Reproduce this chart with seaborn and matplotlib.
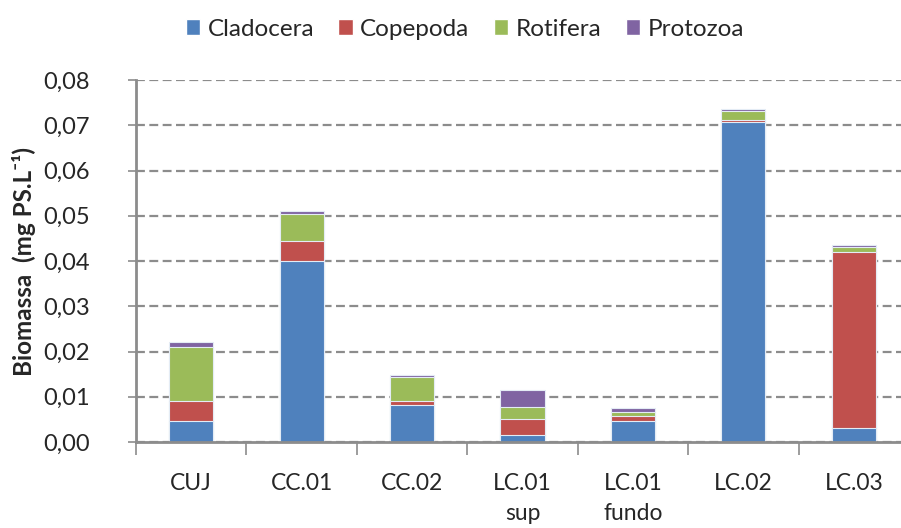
import numpy as np
import pandas as pd
import matplotlib
matplotlib.use("Agg")
import matplotlib.pyplot as plt
import seaborn as sns
from matplotlib.patches import Patch
from matplotlib.ticker import FuncFormatter

# data
sites = ['CUJ', 'CC.01', 'CC.02', 'LC.01\nsup', 'LC.01\nfundo', 'LC.02', 'LC.03']
cladocera = [0.0046, 0.0400, 0.0081, 0.0015, 0.0046, 0.0708, 0.0032]
copepoda = [0.0044, 0.0044, 0.0009, 0.0035, 0.0012, 0.0004, 0.0388]
rotifera = [0.0119, 0.0060, 0.0053, 0.0027, 0.0009, 0.0019, 0.0010]
protozoa = [0.0013, 0.0006, 0.0004, 0.0039, 0.0009, 0.0004, 0.0005]

groups = ['Cladocera', 'Copepoda', 'Rotifera', 'Protozoa']
colors = ['#4F81BD', '#C0504D', '#9BBB59', '#8064A2']

sns.set_style('white')
plt.rcParams['font.family'] = ['Lato', 'DejaVu Sans']

df = pd.DataFrame({'site': sites, 'Cladocera': cladocera, 'Copepoda': copepoda,
                   'Rotifera': rotifera, 'Protozoa': protozoa})
cum = df[groups].cumsum(axis=1)

fig = plt.figure(figsize=(9.01, 5.28), dpi=100)
ax = fig.add_axes([136 / 901, 86 / 528, 773 / 901, 362 / 528])

# stacked bars: draw cumulative totals from the top layer down
for g, c in reversed(list(zip(groups, colors))):
    sns.barplot(x=df['site'], y=cum[g], color=c, width=0.4, ax=ax,
                edgecolor='#e4ecf5', linewidth=0.8, saturation=1)

ax.set_ylim(0, 0.08)
ax.set_xlim(-0.5, 6.5)
ax.set_yticks(np.arange(0, 0.081, 0.01))
ax.yaxis.set_major_formatter(FuncFormatter(lambda v, p: f'{v:.2f}'.replace('.', ',')))
ax.yaxis.grid(True, linestyle=(0, (4, 2)), color='#8c8c8c', linewidth=1.6)
ax.set_axisbelow(True)

for s in ['top', 'right']:
    ax.spines[s].set_visible(False)
for s in ['left', 'bottom']:
    ax.spines[s].set_color('#8c8c8c')
    ax.spines[s].set_linewidth(2)

ax.tick_params(axis='y', direction='out', length=6, width=1.2, color='#8c8c8c',
               labelsize=17, pad=27, left=True)
ax.set_xticks(range(len(sites)))
ax.set_xticklabels(sites, linespacing=1.55)
ax.set_xticks(np.arange(-0.5, 7, 1), minor=True)
ax.tick_params(axis='x', which='minor', direction='out', length=9, width=1.2,
               color='#8c8c8c', bottom=True)
ax.tick_params(axis='x', which='major', length=0, labelsize=16.5, pad=22)
ax.set_xlabel('')
ax.set_ylabel('Biomassa  (mg PS.L⁻¹)', fontsize=17.5, fontweight='bold', labelpad=5)

handles = [Patch(facecolor=c, label=g) for g, c in zip(groups, colors)]
fig.legend(handles=handles, loc='center', bbox_to_anchor=(0.516, 1 - 29 / 528), ncol=4,
           frameon=False, fontsize=17.5, handlelength=0.6, handleheight=0.65,
           handletextpad=0.3, columnspacing=1.0)

fig.savefig('out.png', dpi=100)
